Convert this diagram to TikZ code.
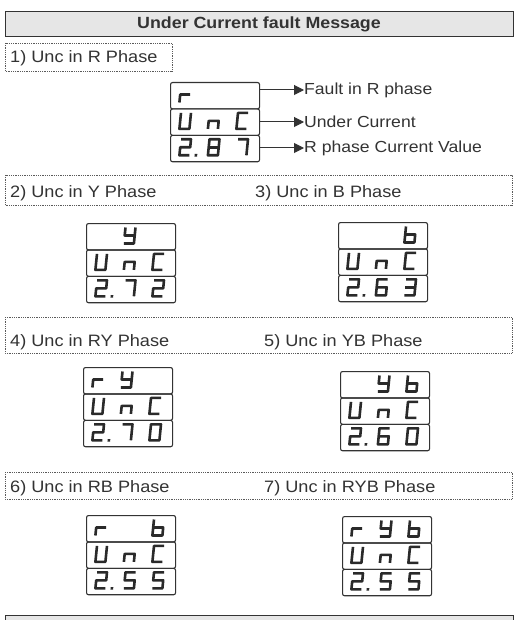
\documentclass[tikz,border=0pt]{standalone}
\usepackage{fontspec}
\setmainfont[FakeStretch=1.1]{Liberation Sans}
\usetikzlibrary{arrows.meta}

\definecolor{ink}{HTML}{333333}
\definecolor{segink}{HTML}{2A2A2A}
\definecolor{hdrgray}{HTML}{E6E6E6}
\definecolor{dotgray}{HTML}{5A5A5A}

% seven-segment glyphs, stroke centres in a 10 x 16 cell
\newcommand\gr{\draw[seg] (0,16)--(0,8)--(10,8);}
\newcommand\gy{\draw[seg] (0,0)--(0,8)--(10,8); \draw[seg] (10,0)--(10,16)--(0,16);}
\newcommand\gb{\draw[seg] (0,0)--(0,16)--(10,16)--(10,8)--(0,8);}
\newcommand\gU{\draw[seg] (0,0)--(0,16)--(10,16)--(10,0);}
\newcommand\gn{\draw[seg] (0,16)--(0,8)--(10,8)--(10,16);}
\newcommand\gC{\draw[seg] (10,0)--(0,0)--(0,16)--(10,16);}
\newcommand\gtwo{\draw[seg] (0,0)--(10,0)--(10,8)--(0,8)--(0,16)--(10,16);}
\newcommand\gthree{\draw[seg] (0,0)--(10,0)--(10,16)--(0,16); \draw[seg] (0,8)--(10,8);}
\newcommand\gfive{\draw[seg] (10,0)--(0,0)--(0,8)--(10,8)--(10,16)--(0,16);}
\newcommand\gsix{\draw[seg] (10,0)--(0,0)--(0,16)--(10,16)--(10,8)--(0,8);}
\newcommand\gseven{\draw[seg] (0,0)--(10,0)--(10,16);}
\newcommand\geight{\draw[seg] (0,0) rectangle (10,16); \draw[seg] (0,8)--(10,8);}
\newcommand\gzero{\draw[seg] (0,0) rectangle (10,16);}
\newcommand\gdot{\fill[segink] (15.2,14.7) rectangle (17.8,17.3);}

% place a glyph in column #1, row #2 of the current display
\newcommand\gl[3]{\begin{scope}[shift={({11+28.5*#1},{4.5+26.4*#2})},xslant=0.1]#3\end{scope}}

% three stacked display rows with top-left corner at the scope origin
\newcommand\rows[1]{%
  \node[rowbox] (#1a) at (0,0) {};
  \node[rowbox] (#1b) at (0,26.4) {};
  \node[rowbox] (#1c) at (0,52.8) {};}

\begin{document}
\begin{tikzpicture}[x=1pt,y=-1pt,
  hdr/.style={draw=ink,line width=1pt,fill=hdrgray},
  title/.style={inner sep=0pt,text=ink,font=\bfseries\fontsize{16.2}{18}\selectfont},
  lbl/.style={anchor=base west,inner sep=0pt,text=ink,font=\fontsize{16.5}{18}\selectfont},
  note/.style={anchor=west,inner sep=0pt,text=ink,font=\fontsize{16}{18}\selectfont},
  dotbox/.style={draw=dotgray,line width=0.7pt,dash pattern=on 0.7pt off 1.1pt},
  rowbox/.style={draw=ink,line width=1.1pt,rounded corners=2pt,anchor=north west,
    minimum width=89pt,minimum height=26.4pt,inner sep=0pt},
  seg/.style={draw=segink,line width=2.6pt,line join=round},
  arr/.style={draw=ink,line width=1pt,-{Triangle[length=10pt,width=10pt]}}]
\useasboundingbox (0,0) rectangle (517,620);
\fill[white] (0,0) rectangle (517,620);

% heading
\draw[hdr] (5,12) rectangle (513,37);
\node[title] (head) at (259,24.5) {Under Current fault Message};

% 1) R phase
\draw[dotbox] (5,43) rectangle (172,71);
\node[lbl] (t1) at (10,63) {1) Unc in R Phase};
\begin{scope}[shift={(170,82)}]
  \rows{d1}
  \gl{0}{0}{\gr}
  \gl{0}{1}{\gU}\gl{1}{1}{\gn}\gl{2}{1}{\gC}
  \gl{0}{2}{\gtwo\gdot}\gl{1}{2}{\geight}\gl{2}{2}{\gseven}
\end{scope}
\node[note] (n1) at (304,90) {Fault in R phase};
\node[note] (n2) at (304,122) {Under Current};
\node[note] (n3) at (304,148) {R phase Current Value};
\draw[arr] (d1a.east |- n1.west) -- (n1.west);
\draw[arr] (d1b.east |- n2.west) -- (n2.west);
\draw[arr] (d1c.east |- n3.west) -- (n3.west);

% 2) Y phase, 3) B phase
\draw[dotbox] (5,175) rectangle (512,205);
\node[lbl] (t2) at (10,197) {2) Unc in Y Phase};
\node[lbl] (t3) at (255,197) {3) Unc in B Phase};
\begin{scope}[shift={(86,223)}]
  \rows{d2}
  \gl{1}{0}{\gy}
  \gl{0}{1}{\gU}\gl{1}{1}{\gn}\gl{2}{1}{\gC}
  \gl{0}{2}{\gtwo\gdot}\gl{1}{2}{\gseven}\gl{2}{2}{\gtwo}
\end{scope}
\begin{scope}[shift={(338,222)}]
  \rows{d3}
  \gl{2}{0}{\gb}
  \gl{0}{1}{\gU}\gl{1}{1}{\gn}\gl{2}{1}{\gC}
  \gl{0}{2}{\gtwo\gdot}\gl{1}{2}{\gsix}\gl{2}{2}{\gthree}
\end{scope}

% 4) RY phase, 5) YB phase
\draw[dotbox] (5,317) rectangle (512,353);
\node[lbl] (t4) at (10,346) {4) Unc in RY Phase};
\node[lbl] (t5) at (264,346) {5) Unc in YB Phase};
\begin{scope}[shift={(83,367)}]
  \rows{d4}
  \gl{0}{0}{\gr}\gl{1}{0}{\gy}
  \gl{0}{1}{\gU}\gl{1}{1}{\gn}\gl{2}{1}{\gC}
  \gl{0}{2}{\gtwo\gdot}\gl{1}{2}{\gseven}\gl{2}{2}{\gzero}
\end{scope}
\begin{scope}[shift={(340,371)}]
  \rows{d5}
  \gl{1}{0}{\gy}\gl{2}{0}{\gb}
  \gl{0}{1}{\gU}\gl{1}{1}{\gn}\gl{2}{1}{\gC}
  \gl{0}{2}{\gtwo\gdot}\gl{1}{2}{\gsix}\gl{2}{2}{\gzero}
\end{scope}

% 6) RB phase, 7) RYB phase
\draw[dotbox] (5,472) rectangle (512,499);
\node[lbl] (t6) at (10,492) {6) Unc in RB Phase};
\node[lbl] (t7) at (264,492) {7) Unc in RYB Phase};
\begin{scope}[shift={(86,515)}]
  \rows{d6}
  \gl{0}{0}{\gr}\gl{2}{0}{\gb}
  \gl{0}{1}{\gU}\gl{1}{1}{\gn}\gl{2}{1}{\gC}
  \gl{0}{2}{\gtwo\gdot}\gl{1}{2}{\gfive}\gl{2}{2}{\gfive}
\end{scope}
\begin{scope}[shift={(342,516)}]
  \rows{d7}
  \gl{0}{0}{\gr}\gl{1}{0}{\gy}\gl{2}{0}{\gb}
  \gl{0}{1}{\gU}\gl{1}{1}{\gn}\gl{2}{1}{\gC}
  \gl{0}{2}{\gtwo\gdot}\gl{1}{2}{\gfive}\gl{2}{2}{\gfive}
\end{scope}

% next heading bar, running off the lower edge
\begin{scope}
  \clip (0,0) rectangle (517,620);
  \draw[hdr] (5,615) rectangle (513,640);
\end{scope}
\end{tikzpicture}
\end{document}
